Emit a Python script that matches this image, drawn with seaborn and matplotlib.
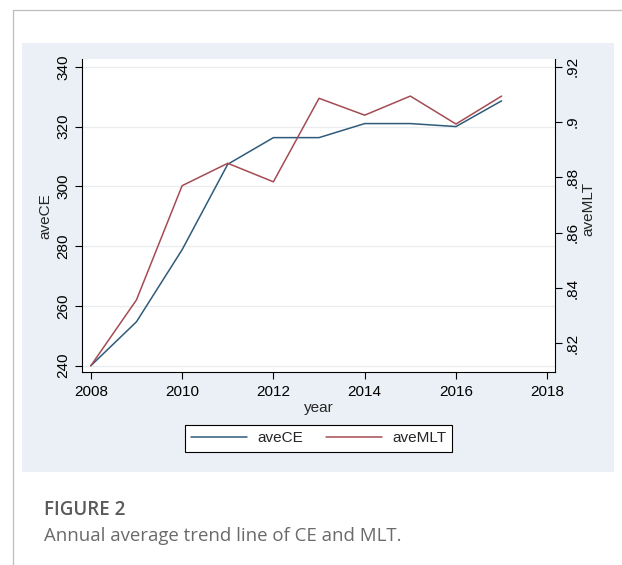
import numpy as np
import pandas as pd
import seaborn as sns
import matplotlib
matplotlib.use("Agg")
import matplotlib.pyplot as plt
from matplotlib.patches import Rectangle
from matplotlib.lines import Line2D

# ---- data ----
years = [2008, 2009, 2010, 2011, 2012, 2013, 2014, 2015, 2016, 2017]
ave_ce = [240.0, 254.7, 278.8, 307.4, 316.3, 316.3, 321.0, 321.0, 320.0, 328.6]
ave_mlt = [0.8119, 0.8357, 0.8770, 0.8851, 0.8784, 0.9086, 0.9025, 0.9094, 0.8993, 0.9094]
ce_ticks = [240, 260, 280, 300, 320, 340]
mlt_ticks = [0.82, 0.84, 0.86, 0.88, 0.90, 0.92]
mlt_tick_labels = [".82", ".84", ".86", ".88", ".9", ".92"]
year_ticks = [2008, 2010, 2012, 2014, 2016, 2018]
series_names = ["aveCE", "aveMLT"]
caption_title = "FIGURE 2"
caption_text = "Annual average trend line of CE and MLT."

df = pd.DataFrame({"year": years, "aveCE": ave_ce, "aveMLT": ave_mlt})

sns.set_style("white")
plt.rcParams["font.family"] = ["Liberation Sans", "DejaVu Sans"]

W, H = 622, 565
fig = plt.figure(figsize=(W / 100, H / 100), dpi=100)
fig.patch.set_facecolor("white")

FS = 11


def fx(px):
    return px / W


def fy(py):
    return 1 - py / H


# page frame lines
fig.add_artist(Line2D([fx(12.5), fx(12.5)], [fy(9.5), fy(565)], color="#BDBDBD", lw=0.9))
fig.add_artist(Line2D([fx(12.5), 1.0], [fy(9.5), fy(9.5)], color="#BDBDBD", lw=0.9))
# chart panel background
fig.add_artist(Rectangle((fx(22), fy(472)), fx(614) - fx(22), fy(43) - fy(472),
                         transform=fig.transFigure, facecolor="#EAF0F5",
                         edgecolor="none", zorder=-5))

blue = "#2F5B7A"
red = "#A54B53"

ax = fig.add_axes([fx(81.7), fy(372), fx(555) - fx(81.7), fy(59) - fy(372)])
ax.set_facecolor("white")

# axis ranges
L0, L1 = 237.9, 342.6
x0, x1 = 2007.80, 2018.17
r_lo, r_hi = 0.8119, 0.92


def l2r(L):
    return r_lo + (L - 240) * (r_hi - r_lo) / 100.0


sns.lineplot(data=df, x="year", y="aveCE", ax=ax, color=blue, lw=1.1, legend=False)
ax.set_xlim(x0, x1)
ax.set_ylim(L0, L1)

ax2 = ax.twinx()
sns.lineplot(data=df, x="year", y="aveMLT", ax=ax2, color=red, lw=1.1, legend=False)
ax2.set_ylim(l2r(L0), l2r(L1))
ax2.set_xlim(x0, x1)

# ticks
ax.set_xticks(year_ticks)
ax.set_xticklabels([str(y) for y in year_ticks], fontsize=FS)
ax.set_yticks(ce_ticks)
ax.set_yticklabels([str(t) for t in ce_ticks], rotation=90, va="center", fontsize=FS)
ax2.set_yticks(mlt_ticks)
ax2.set_yticklabels(mlt_tick_labels, rotation=90, va="center", fontsize=FS)

ax.tick_params(axis="both", direction="out", length=5, width=0.8, color="black",
               labelcolor="black", left=True, bottom=True)
ax.tick_params(axis="y", pad=3)
ax.tick_params(axis="x", pad=4.5)
ax2.tick_params(axis="y", direction="out", length=5, width=0.8, color="black",
                labelcolor="black", right=True, pad=2.5)

# grid
ax.grid(axis="y", color="#E9EDF0", lw=0.9)
ax.grid(axis="x", visible=False)
ax.set_axisbelow(True)
ax2.grid(False)

# spines
for s in ["top", "right"]:
    ax.spines[s].set_visible(False)
for s in ["top", "left", "bottom"]:
    ax2.spines[s].set_visible(False)
for sp in [ax.spines["left"], ax.spines["bottom"], ax2.spines["right"]]:
    sp.set_color("black")
    sp.set_linewidth(0.8)
    sp.set_visible(True)

# labels
ax.set_xlabel("year", fontsize=FS, labelpad=1.5)
ax.set_ylabel("aveCE", fontsize=FS)
ax2.set_ylabel("aveMLT", fontsize=FS, rotation=90)
ax.yaxis.set_label_coords((45 - 81.7) / (555 - 81.7), (372 - 216) / (372 - 59))
ax2.yaxis.set_label_coords((588 - 81.7) / (555 - 81.7), (372 - 209) / (372 - 59))
ax2.yaxis.label.set_va("center")
ax.yaxis.label.set_va("center")

# legend
handles = [Line2D([], [], color=blue, lw=1.1), Line2D([], [], color=red, lw=1.1)]
leg = fig.legend(handles, series_names, loc="center",
                 bbox_to_anchor=(fx(318.5), fy(438.5)), ncol=2, frameon=True,
                 fancybox=False, edgecolor="black", framealpha=1, fontsize=FS,
                 handlelength=3.7, handletextpad=0.65, columnspacing=1.5,
                 borderpad=0.4)
leg.get_frame().set_linewidth(0.8)

# caption
fig.text(fx(44), fy(510), caption_title, fontsize=13.5, fontweight="semibold",
         color="#5A5A5A", family=["Open Sans", "DejaVu Sans"], va="center", ha="left")
fig.text(fx(44), fy(536), caption_text, fontsize=13.4, color="#6A6A6A",
         family=["Open Sans", "DejaVu Sans"], va="center", ha="left")

fig.savefig("out.png", dpi=100)
